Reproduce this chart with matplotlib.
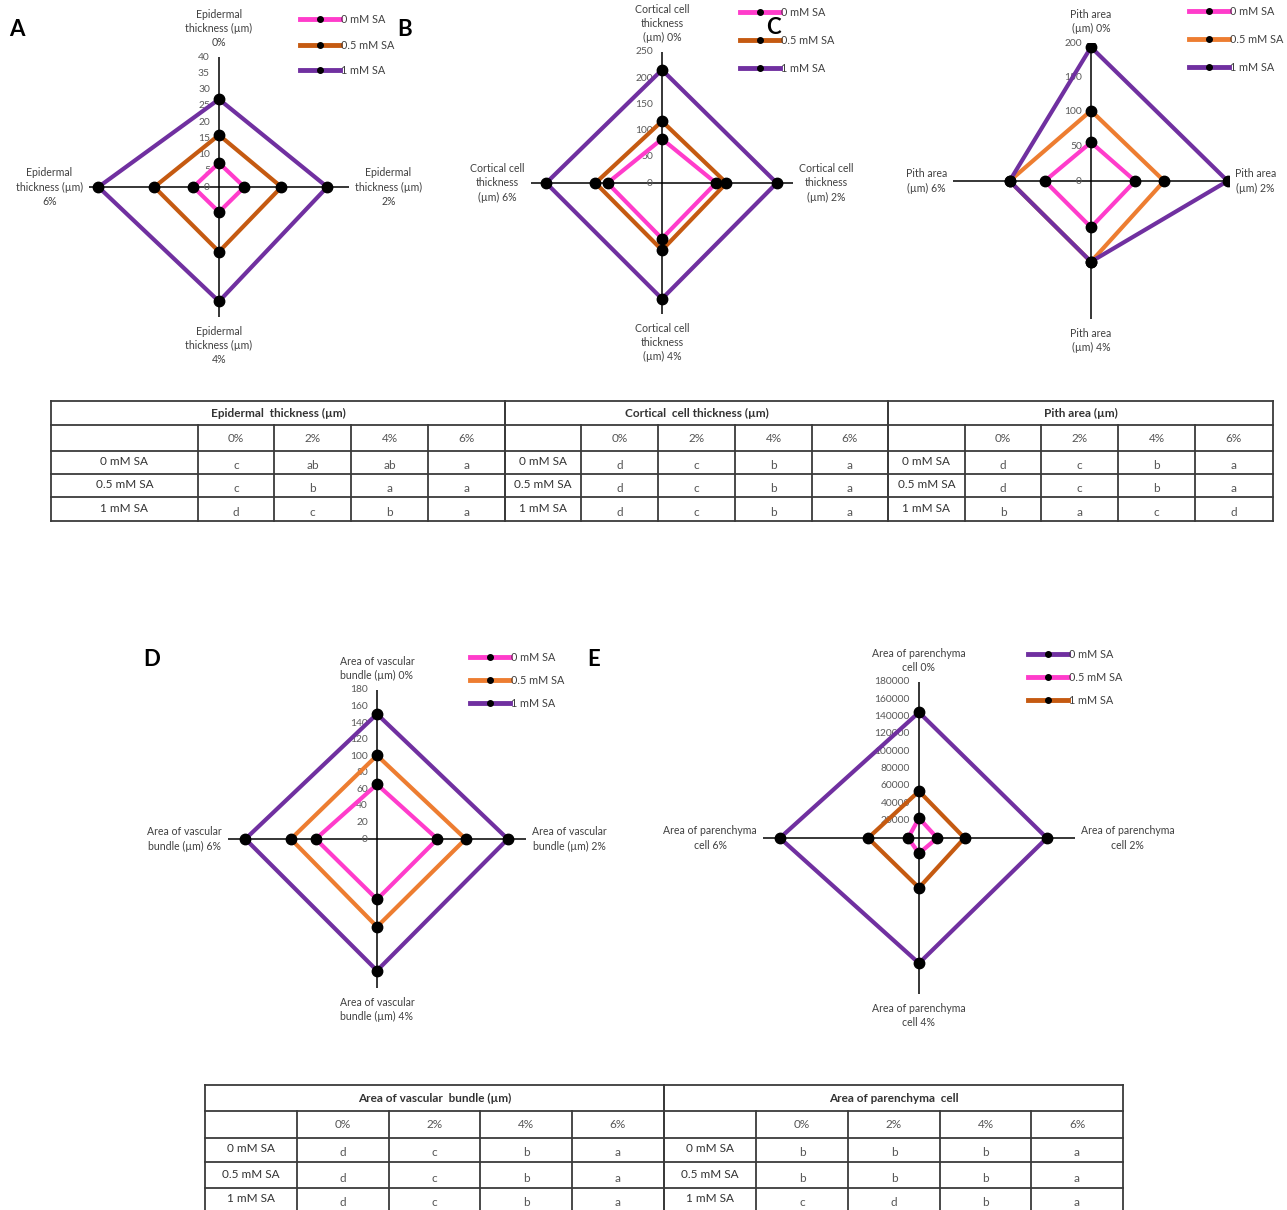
import numpy as np
import matplotlib
matplotlib.use("Agg")
import matplotlib.pyplot as plt
from matplotlib.lines import Line2D

plt.rcParams['font.family'] = ['Lato', 'DejaVu Sans']

W, H = 1287, 1210

treatments = ["0 mM SA", "0.5 mM SA", "1 mM SA"]
levels = ["0%", "2%", "4%", "6%"]

PINK = "#FF3CCB"
BROWN = "#C55A11"
ORANGE = "#ED7D31"
PURPLE = "#7030A0"

epidermal_0 = [7.4, 7.8, 7.7, 7.9]
epidermal_05 = [16.0, 19.2, 19.9, 19.9]
epidermal_1 = [27.0, 33.3, 35.2, 37.1]

cortical_0 = [84, 103, 106, 104]
cortical_05 = [118, 123, 128, 127]
cortical_1 = [216, 219, 221, 221]

pith_0 = [56, 64, 67, 67]
pith_05 = [102, 106, 117, 118]
pith_1 = [194, 198, 117, 118]

vascular_0 = [66, 73, 73, 74]
vascular_05 = [101, 107, 106, 104]
vascular_1 = [151, 158, 159, 159]

parenchyma_0 = [145000, 147500, 144500, 160500]
parenchyma_05 = [23000, 21000, 17700, 12600]
parenchyma_1 = [54000, 52500, 57400, 58700]

# significance letters, rows = treatments, cols = levels
epidermal_letters = [["c", "ab", "ab", "a"], ["c", "b", "a", "a"], ["d", "c", "b", "a"]]
cortical_letters = [["d", "c", "b", "a"], ["d", "c", "b", "a"], ["d", "c", "b", "a"]]
pith_letters = [["d", "c", "b", "a"], ["d", "c", "b", "a"], ["b", "a", "c", "d"]]
vascular_letters = [["d", "c", "b", "a"], ["d", "c", "b", "a"], ["d", "c", "b", "a"]]
parenchyma_letters = [["b", "b", "b", "a"], ["b", "b", "b", "a"], ["c", "d", "b", "a"]]

fig = plt.figure(figsize=(W / 100, H / 100), dpi=100)
base = fig.add_axes([0, 0, 1, 1])
base.set_xlim(0, W)
base.set_ylim(H, 0)
base.axis('off')

TXT = '#404040'
FS = 7.6
TFS = 8.5


def radar(cx, cy, rpx, rmax, ticks, series, colors, names, legend_pos, legend_gap):
    ax = fig.add_axes([(cx - rpx) / W, 1 - (cy + rpx) / H, 2 * rpx / W, 2 * rpx / H])
    ax.set_xlim(-rmax, rmax)
    ax.set_ylim(-rmax, rmax)
    ax.axis('off')
    ax.plot([0, 0], [-rmax, rmax], color='k', lw=1.1, zorder=1)
    ax.plot([-rmax, rmax], [0, 0], color='k', lw=1.1, zorder=1)
    u = rmax / rpx  # data units per pixel
    for t in ticks:
        ax.text(-9 * u, t, f"{t}", ha='right', va='center', fontsize=7.4, color='#595959', zorder=2)
    ang = np.deg2rad([90, 0, -90, 180, 90])
    for vals, c in zip(series, colors):
        v = np.array(list(vals) + [vals[0]], float)
        ax.plot(v * np.cos(ang), v * np.sin(ang), color=c, lw=3, zorder=3)
        ax.plot(v[:4] * np.cos(ang[:4]), v[:4] * np.sin(ang[:4]), 'o', color='k', ms=7.5, zorder=4)
    kw = dict(fontsize=FS, color=TXT, multialignment='center', linespacing=1.35)
    ax.text(0, rmax + 9 * u, names[0], ha='center', va='bottom', **kw)
    ax.text(rmax + 6 * u, 0, names[1], ha='left', va='center', **kw)
    ax.text(0, -rmax - 9 * u, names[2], ha='center', va='top', **kw)
    ax.text(-rmax - 6 * u, 0, names[3], ha='right', va='center', **kw)
    handles = [Line2D([], [], color=c, lw=3.5, marker='o', ms=4, mfc='k', mec='k') for c in colors]
    labels = ["0 mM SA", "0.5 mM SA", "1 mM SA"]
    ax.legend(handles, labels, loc='upper left', frameon=False, fontsize=7.8,
              bbox_to_anchor=(legend_pos[0] / W, 1 - legend_pos[1] / H),
              bbox_transform=fig.transFigure, borderpad=0, borderaxespad=0,
              handlelength=3.7, handletextpad=0.1, labelspacing=legend_gap,
              labelcolor=TXT)
    return ax


radar(219, 187, 130, 40, range(0, 41, 5),
      [epidermal_0, epidermal_05, epidermal_1], [PINK, BROWN, PURPLE],
      ["Epidermal\nthickness (µm)\n0%", "Epidermal\nthickness (µm)\n2%",
       "Epidermal\nthickness (µm)\n4%", "Epidermal\nthickness (µm)\n6%"],
      (300, 14), 1.35)

radar(662, 183, 131, 250, range(0, 251, 50),
      [cortical_0, cortical_05, cortical_1], [PINK, BROWN, PURPLE],
      ["Cortical cell\nthickness\n(µm) 0%", "Cortical cell\nthickness\n(µm) 2%",
       "Cortical cell\nthickness\n(µm) 4%", "Cortical cell\nthickness\n(µm) 6%"],
      (740, 7), 1.55)

radar(1091, 181, 138, 200, range(0, 201, 50),
      [pith_0, pith_05, pith_1], [PINK, ORANGE, PURPLE],
      ["Pith area\n(µm) 0%", "Pith area\n(µm) 2%", "Pith area\n(µm) 4%", "Pith area\n(µm) 6%"],
      (1189, 6), 1.55)

radar(377, 839, 149, 180, range(0, 181, 20),
      [vascular_0, vascular_05, vascular_1], [PINK, ORANGE, PURPLE],
      ["Area of vascular\nbundle (µm) 0%", "Area of vascular\nbundle (µm) 2%",
       "Area of vascular\nbundle (µm) 4%", "Area of vascular\nbundle (µm) 6%"],
      (470, 652), 1.1)

radar(919, 838, 156, 180000, range(0, 180001, 20000),
      [parenchyma_0, parenchyma_05, parenchyma_1], [PURPLE, PINK, BROWN],
      ["Area of parenchyma\ncell 0%", "Area of parenchyma\ncell 2%",
       "Area of parenchyma\ncell 4%", "Area of parenchyma\ncell 6%"],
      (1028, 649), 1.1)

for letter, x, y in [("A", 17, 30), ("B", 405, 30), ("C", 773, 28), ("D", 152, 660), ("E", 594, 660)]:
    base.text(x, y, letter, fontsize=16, fontweight='bold', ha='center', va='center', color='k')


def table(xedges_list, yedges, titles, letters_list, bottom=True):
    lc = '#3a3a3a'
    x0, x1 = xedges_list[0][0], xedges_list[-1][-1]
    for i, y in enumerate(yedges):
        if i == len(yedges) - 1 and not bottom:
            continue
        base.plot([x0, x1], [y, y], color=lc, lw=1.3)
    for xe, title, letters in zip(xedges_list, titles, letters_list):
        base.plot([xe[0], xe[0]], [yedges[0], yedges[-1]], color=lc, lw=1.3)
        base.plot([xe[-1], xe[-1]], [yedges[0], yedges[-1]], color=lc, lw=1.3)
        for x in xe[1:-1]:
            base.plot([x, x], [yedges[1], yedges[-1]], color=lc, lw=1.3)
        base.text((xe[0] + xe[-1]) / 2, (yedges[0] + yedges[1]) / 2, title,
                  ha='center', va='center', fontsize=TFS, fontweight='bold', color='#333333')
        ym = (yedges[1] + yedges[2]) / 2
        for j, lev in enumerate(levels):
            base.text((xe[j + 1] + xe[j + 2]) / 2, ym, lev, ha='center', va='center',
                      fontsize=TFS, color='#555555')
        for r, tr in enumerate(treatments):
            yr = (yedges[r + 2] + yedges[r + 3]) / 2
            base.text((xe[0] + xe[1]) / 2, yr - 1, tr, ha='center', va='center',
                      fontsize=TFS, color='#333333')
            for j in range(4):
                base.text((xe[j + 1] + xe[j + 2]) / 2, yr + 3, letters[r][j],
                          ha='center', va='center', fontsize=TFS, color='#555555')


table([[51, 198, 274, 351, 428, 505], [505, 581, 658, 735, 812, 888],
       [888, 965, 1041, 1118, 1195, 1273]],
      [401, 425, 451, 474, 497, 521],
      ["Epidermal  thickness (µm)", "Cortical  cell thickness (µm)", "Pith area (µm)"],
      [epidermal_letters, cortical_letters, pith_letters])

table([[205, 297, 389, 480, 572, 664], [664, 756, 848, 940, 1031, 1123]],
      [1085, 1111, 1138, 1162, 1188, 1212],
      ["Area of vascular  bundle (µm)", "Area of parenchyma  cell"],
      [vascular_letters, parenchyma_letters], bottom=False)

fig.savefig("out.png", dpi=100)
